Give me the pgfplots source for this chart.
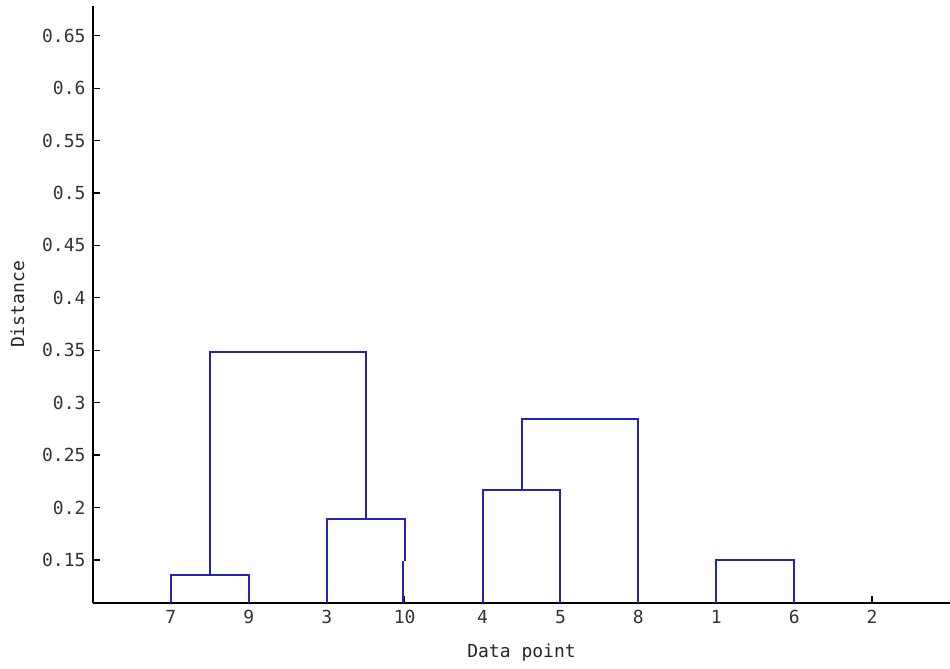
\documentclass[border=0pt]{standalone}
\usepackage{pgfplots}
\pgfplotsset{compat=1.18}
\usepackage{fontspec}
\setmainfont{DejaVu Sans Mono}
\definecolor{dblue}{RGB}{35,35,185}
\begin{document}
\begin{tikzpicture}[x=1pt,y=1pt]
\path[use as bounding box] (0,0) rectangle (950,669);
\begin{axis}[
  at={(93pt,66pt)}, anchor=south west,
  scale only axis, width=857pt, height=597pt,
  xmin=0, xmax=11, ymin=0.1089, ymax=0.6784,
  axis x line=bottom, axis y line=left,
  axis line style={-, line width=1.3pt, black},
  tick align=inside, major tick length=7pt,
  tick style={black, line width=1.3pt},
  xtick={1,2,3,4,5,6,7,8,9,10},
  xticklabels={7,9,3,10,4,5,8,1,6,2},
  ytick={0.15,0.2,0.25,0.3,0.35,0.4,0.45,0.5,0.55,0.6,0.65},
  yticklabels={0.15,0.2,0.25,0.3,0.35,0.4,0.45,0.5,0.55,0.6,0.65},
  tick label style={font=\fontsize{18}{20}\selectfont, text=black!80},
  xticklabel style={yshift=-4pt},
  yticklabel style={xshift=-4pt},
  xlabel={Data point}, ylabel={Distance},
  label style={font=\fontsize{18}{20}\selectfont, text=black!85},
  xlabel style={at={(axis description cs:0.5,-0.0905)}, anchor=base},
  ylabel style={at={(axis description cs:-0.0805,0.5)}, anchor=base, rotate=0},
  clip=false,
]
\addplot[dblue, line width=2pt] coordinates {(1,0.1089) (1,0.1357) (2,0.1357) (2,0.1089)};
\addplot[dblue, line width=2pt] coordinates {(1.5,0.1357) (1.5,0.3482) (3.5,0.3482) (3.5,0.1888)};
\addplot[dblue, line width=2pt] coordinates {(3,0.1089) (3,0.1888) (4,0.1888) (4,0.149)};
\addplot[dblue, line width=1.2pt] coordinates {(3.978,0.149) (3.978,0.1089)};
\addplot[dblue, line width=2pt] coordinates {(5,0.1089) (5,0.2168) (6,0.2168) (6,0.1089)};
\addplot[dblue, line width=2pt] coordinates {(5.5,0.2168) (5.5,0.2845) (7,0.2845) (7,0.1089)};
\addplot[dblue, line width=2pt] coordinates {(8,0.1089) (8,0.1497) (9,0.1497) (9,0.1089)};
\end{axis}
\end{tikzpicture}
\end{document}
